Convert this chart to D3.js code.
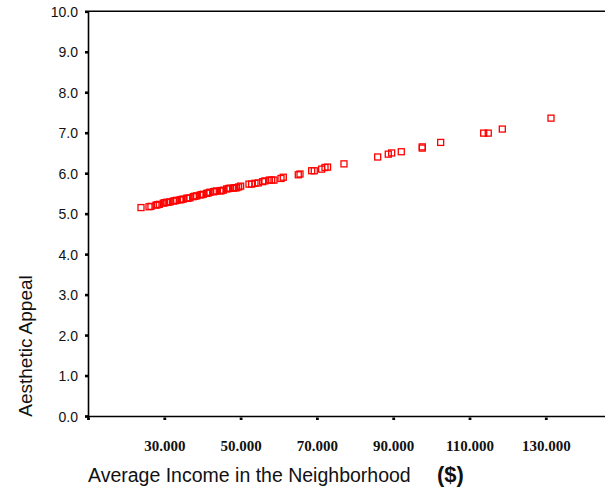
<!DOCTYPE html>
<html>
<head>
<meta charset="utf-8">
<script src="https://cdn.jsdelivr.net/npm/d3@7"></script>
<style>
  body { margin: 0; background: #fff; }
  svg { display: block; }
</style>
</head>
<body>
<svg id="chart" width="605" height="489"></svg>
<script>
// income of the neighborhood ($) and aesthetic appeal
const income = [
  23890, 25990, 26500, 27820, 28200, 28690, 29740, 30100, 30630, 31000,
  31490, 32360, 32800, 33250, 34110, 34500, 34980, 35870, 36200, 36730,
  37600, 38000, 38490, 39360, 39800, 40220, 41110, 41500, 41980, 42840,
  43200, 43730, 44600, 45000, 45460, 46350, 46800, 47220, 48080, 48500,
  48970, 49500, 50020, 52200, 52900, 53770, 54640, 55790, 56390, 57520,
  58150, 58750, 60590, 61190, 65120, 65570, 68630, 69310, 71250, 72120,
  72800, 77100, 85930, 88710, 89600, 92120, 97620, 97620, 102440, 113720,
  114920, 118600, 131360
];
const appeal = [
  5.15, 5.17, 5.18, 5.21, 5.22, 5.23, 5.26, 5.27, 5.28, 5.28,
  5.29, 5.31, 5.32, 5.33, 5.34, 5.35, 5.36, 5.38, 5.38, 5.39,
  5.42, 5.43, 5.44, 5.46, 5.47, 5.48, 5.50, 5.51, 5.53, 5.54,
  5.55, 5.56, 5.56, 5.57, 5.58, 5.61, 5.62, 5.63, 5.63, 5.64,
  5.64, 5.66, 5.68, 5.73, 5.73, 5.75, 5.76, 5.79, 5.81, 5.83,
  5.83, 5.83, 5.87, 5.90, 5.96, 5.98, 6.06, 6.06, 6.10, 6.14,
  6.15, 6.23, 6.40, 6.47, 6.50, 6.53, 6.62, 6.65, 6.76, 6.99,
  6.99, 7.09, 7.36
];
const xTicks = [10000, 30000, 50000, 70000, 90000, 110000, 130000];
const xTickLabels = ["", "30.000", "50.000", "70.000", "90.000", "110.000", "130.000"];
const yTicks = [0, 1, 2, 3, 4, 5, 6, 7, 8, 9, 10];
const yTickLabels = ["0.0", "1.0", "2.0", "3.0", "4.0", "5.0", "6.0", "7.0", "8.0", "9.0", "10.0"];

const plotLeft = 88, plotTop = 11.3, plotBottom = 416;

const x = d3.scaleLinear().domain([10000, 150000]).range([plotLeft, plotLeft + 140000 / 20000 * 76.3]);
const y = d3.scaleLinear().domain([0, 10]).range([plotBottom, plotTop]);

const svg = d3.select("#chart");

// top frame line
svg.append("line")
  .attr("x1", plotLeft).attr("x2", 605)
  .attr("y1", plotTop).attr("y2", plotTop)
  .attr("stroke", "#000").attr("stroke-width", 1.4);

// y axis
const yAxis = d3.axisLeft(y)
  .tickValues(yTicks)
  .tickFormat((d, i) => yTickLabels[i])
  .tickSizeOuter(0)
  .tickSize(3)
  .tickPadding(7);
const gy = svg.append("g").attr("transform", `translate(${plotLeft},0)`).call(yAxis);
gy.select(".domain").attr("stroke", "#000").attr("stroke-width", 1.6);
gy.selectAll(".tick line").attr("stroke", "#000").attr("stroke-width", 2.6);
gy.selectAll(".tick text")
  .attr("fill", "#111")
  .style("font-family", "'Liberation Sans', Arial, sans-serif")
  .style("font-size", "14px")
  .attr("dy", "0.36em");

// x axis
const xAxis = d3.axisBottom(x)
  .tickValues(xTicks)
  .tickFormat((d, i) => xTickLabels[i])
  .tickSizeOuter(0)
  .tickSize(4)
  .tickPadding(20);
const gx = svg.append("g").attr("transform", `translate(0,${plotBottom})`).call(xAxis);
gx.select(".domain").attr("stroke", "#000").attr("stroke-width", 1.6);
gx.selectAll(".tick line").attr("y1", 1.5).attr("stroke", "#000").attr("stroke-width", 2.8);
gx.selectAll(".tick text")
  .attr("fill", "#111")
  .style("font-family", "'Liberation Serif', 'Times New Roman', serif")
  .style("font-weight", "bold")
  .style("font-size", "15px");

// points
svg.append("g")
  .selectAll("rect")
  .data(income.map((d, i) => [d, appeal[i]]))
  .join("rect")
    .attr("x", d => x(d[0]) - 3)
    .attr("y", d => y(d[1]) - 3)
    .attr("width", 6)
    .attr("height", 6)
    .attr("fill", "none")
    .attr("stroke", "#ff0000")
    .attr("stroke-width", 1.3);

// axis titles
svg.append("text")
  .attr("transform", "translate(32,346) rotate(-90)")
  .style("text-anchor", "middle")
  .style("font-family", "'Liberation Sans', Arial, sans-serif")
  .style("font-size", "19px")
  .attr("fill", "#111")
  .text("Aesthetic Appeal");

svg.append("text")
  .attr("x", plotLeft).attr("y", 482)
  .style("font-family", "'Liberation Sans', Arial, sans-serif")
  .style("font-size", "19.5px")
  .attr("fill", "#111")
  .text("Average Income in the Neighborhood");

svg.append("text")
  .attr("x", 437).attr("y", 482)
  .style("font-family", "'Liberation Sans', Arial, sans-serif")
  .style("font-size", "22px")
  .style("font-weight", "bold")
  .attr("fill", "#111")
  .text("($)");
</script>
</body>
</html>
